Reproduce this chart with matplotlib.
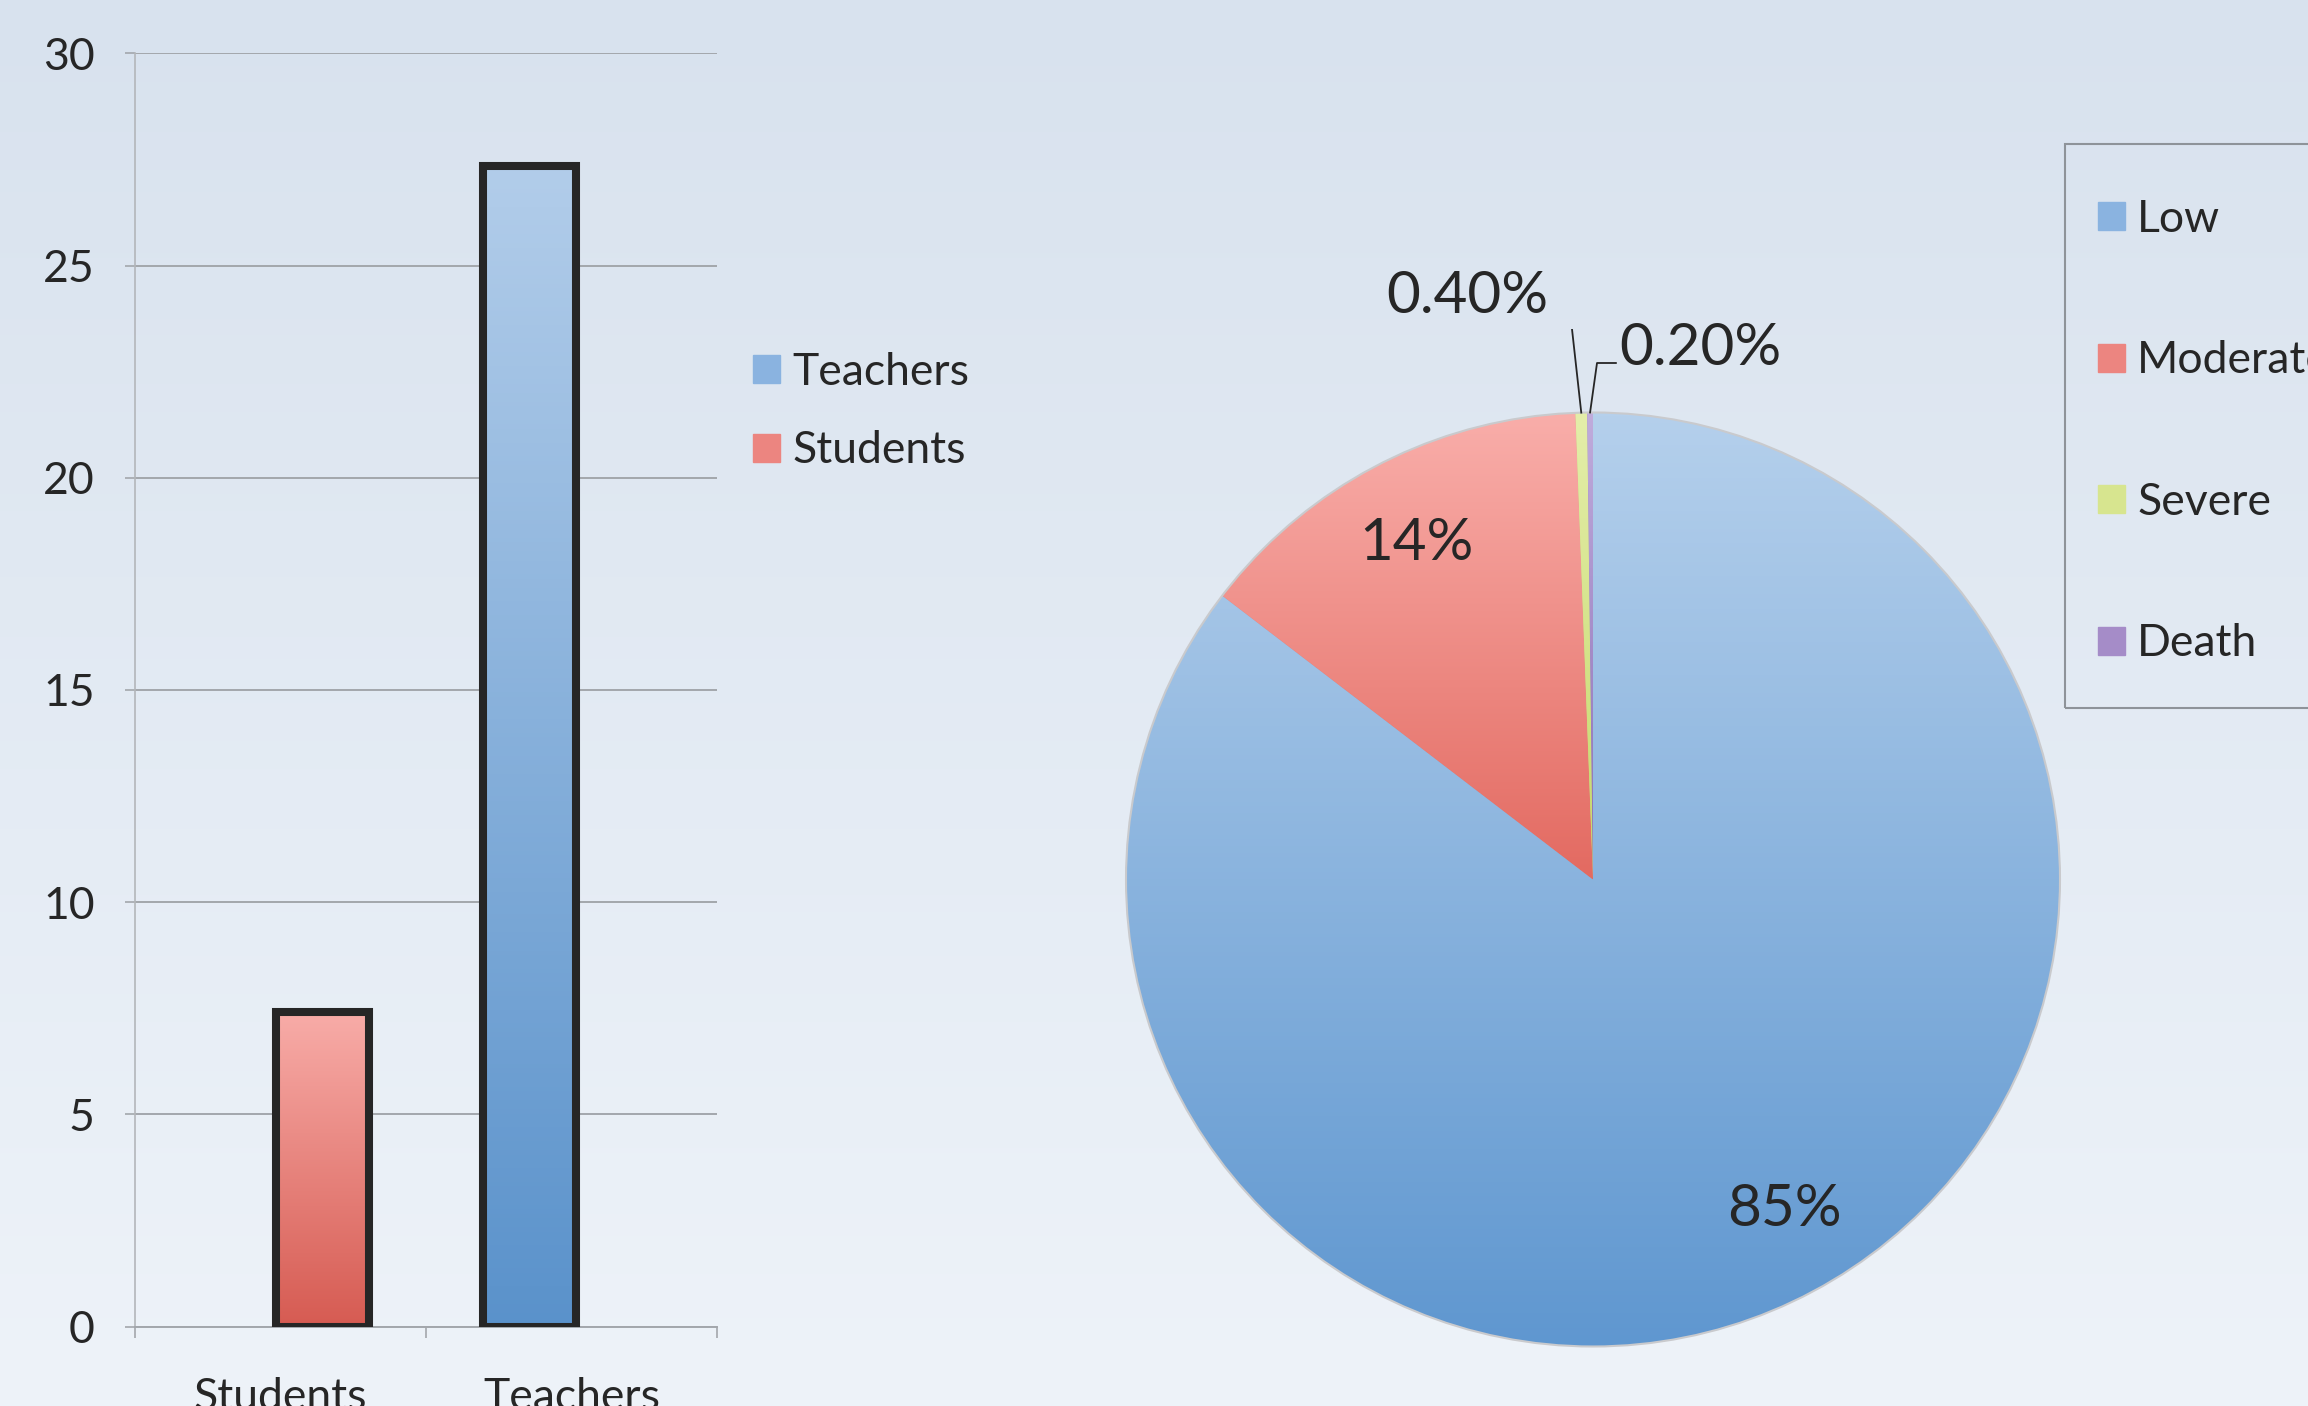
import numpy as np
import matplotlib.pyplot as plt
from matplotlib.colors import LinearSegmentedColormap
from matplotlib.patches import Patch, Circle, Rectangle

plt.rcParams['font.family'] = ['Lato', 'DejaVu Sans']
TXT = '#262626'

# bar chart data
categories = ['Students', 'Teachers']
teachers = [0, 27.35]
students = [7.4, 0]

# pie data
levels = ['Low', 'Moderate', 'Severe', 'Death']
shares = [85.4, 14.0, 0.4, 0.2]
share_labels = ['85%', '14%', '0.40%', '0.20%']

W, H = 2308, 1406
fig = plt.figure(figsize=(W / 100, H / 100), dpi=100)

# background
bg = fig.add_axes([0, 0, 1, 1], zorder=-10)
grad = np.linspace(0, 1, 256).reshape(-1, 1)
bg.imshow(grad, aspect='auto', extent=[0, 1, 0, 1], origin='upper',
          cmap=LinearSegmentedColormap.from_list('bg', ['#d8e2ee', '#eef3f9']))
bg.axis('off')


def fill_gradient(ax, patch, top, bottom, z):
    bb = patch.get_path().get_extents(patch.get_patch_transform())
    cm = LinearSegmentedColormap.from_list('g', [top, bottom])
    im = ax.imshow(grad, aspect='auto', cmap=cm, origin='upper',
                   extent=[bb.x0, bb.x1, bb.y0, bb.y1], zorder=z)
    im.set_clip_path(patch)


# ---- bar chart
ax = fig.add_axes([135 / W, 1 - 1326.5 / H, (717 - 135) / W, (1326.5 - 53.3) / H])
ax.set_facecolor('none')
x = np.arange(len(categories))
series = [(teachers, -0.145, '#b2cdea', '#5a92cb'),
          (students, 0.145, '#f8aca8', '#d65b52')]
for vals, off, top, bot in series:
    bars = ax.bar(x + off, vals, 0.32, facecolor='none', edgecolor=TXT,
                  linewidth=5.8, zorder=3)
    for b, v in zip(bars, vals):
        if v == 0:
            b.set_visible(False)
        else:
            fill_gradient(ax, b, top, bot, 2)

ax.set_xlim(-0.5, 1.5)
ax.set_ylim(0, 30)
ax.set_yticks(range(0, 31, 5))
ax.set_xticks(x)
ax.set_xticklabels(categories)
ax.set_xticks([-0.5, 0.5, 1.5], minor=True)
ax.tick_params(axis='x', which='major', length=0, pad=36, labelsize=32, labelcolor=TXT)
ax.tick_params(axis='x', which='minor', length=8, width=1.2, color='#a3a7ac')
ax.tick_params(axis='y', length=7, width=1.2, color='#a3a7ac', pad=22,
               labelsize=32, labelcolor=TXT)
ax.yaxis.grid(True, color='#a3a7ac', lw=1.4)
ax.set_axisbelow(True)
for s in ['top', 'right']:
    ax.spines[s].set_visible(False)
ax.spines['left'].set_color('#b3b6ba')
ax.spines['bottom'].set_color('#a3a7ac')
ax.spines['left'].set_linewidth(1.2)
ax.spines['bottom'].set_linewidth(1.4)

ax.legend(handles=[Patch(color='#8ab3e0'), Patch(color='#ec8580')],
          labels=['Teachers', 'Students'], loc='upper left',
          bbox_to_anchor=(753 / W, 1 - 352 / H), bbox_transform=fig.transFigure,
          frameon=False, fontsize=32, handlelength=0.6, handleheight=0.6,
          handletextpad=0.28, labelspacing=0.84, borderpad=0, borderaxespad=0,
          labelcolor=TXT)

# ---- pie chart
R = 467
box = 1100
pax = fig.add_axes([(1593 - box / 2) / W, 1 - (879.5 + box / 2) / H, box / W, box / H])
pie_grads = [('#b5d0ec', '#5f97d0'), ('#f9aeaa', '#e36a61'),
             ('#e4eeaa', '#c5d86a'), ('#c0acdc', '#8a6db5')]
wedges, _ = pax.pie(shares, startangle=90, counterclock=False, radius=1,
                    colors=[g[1] for g in pie_grads],
                    wedgeprops=dict(linewidth=0))
for w, (top, bot) in zip(wedges, pie_grads):
    fill_gradient(pax, w, top, bot, 2)
pax.add_patch(Circle((0, 0), 1, fill=False, edgecolor='#c9cacd', lw=1.5, zorder=4))

lim = box / 2 / R
pax.set_xlim(-lim, lim)
pax.set_ylim(-lim, lim)
pax.set_aspect('equal')
pax.axis('off')


def edge_point(w, r=1.0):
    a = np.deg2rad((w.theta1 + w.theta2) / 2)
    return r * np.cos(a), r * np.sin(a)


# inside labels
inside_pos = [(0.41, -0.695), (-0.377, 0.73)]
for (px, py), lab in zip(inside_pos, share_labels[:2]):
    pax.text(px, py, lab, ha='center', va='center_baseline', fontsize=42,
             color=TXT, zorder=5)

# leader labels for the tiny slices
sx, sy = edge_point(wedges[2])
pax.plot([-0.079, -0.049, sx], [1.215, 1.215, sy], color=TXT, lw=1.3, zorder=5)
pax.text(-0.095, 1.26, share_labels[2], ha='right', va='center_baseline',
         fontsize=42, color=TXT)
dx, dy = edge_point(wedges[3])
pax.plot([0.049, 0.0086, dx], [1.106, 1.106, dy], color=TXT, lw=1.3, zorder=5)
pax.text(0.056, 1.147, share_labels[3], ha='left', va='center_baseline',
         fontsize=42, color=TXT)

# pie legend with a plain frame running off the right edge
fig.patches.append(Rectangle((2065 / W, 1 - 708 / H), 400 / W, (708 - 144) / H,
                             transform=fig.transFigure, fill=False,
                             edgecolor='#8e9399', lw=1.5))
fig.legend(handles=[Patch(color=c) for c in ['#8ab3e0', '#ec8580', '#d7e58f', '#a58cc8']],
           labels=levels, loc='upper left',
           bbox_to_anchor=(2098 / W, 1 - 199 / H), fontsize=32, frameon=False,
           labelspacing=2.26, borderpad=0, handlelength=0.6, handleheight=0.6,
           handletextpad=0.28, borderaxespad=0, labelcolor=TXT)

fig.savefig('out.png', dpi=100)
